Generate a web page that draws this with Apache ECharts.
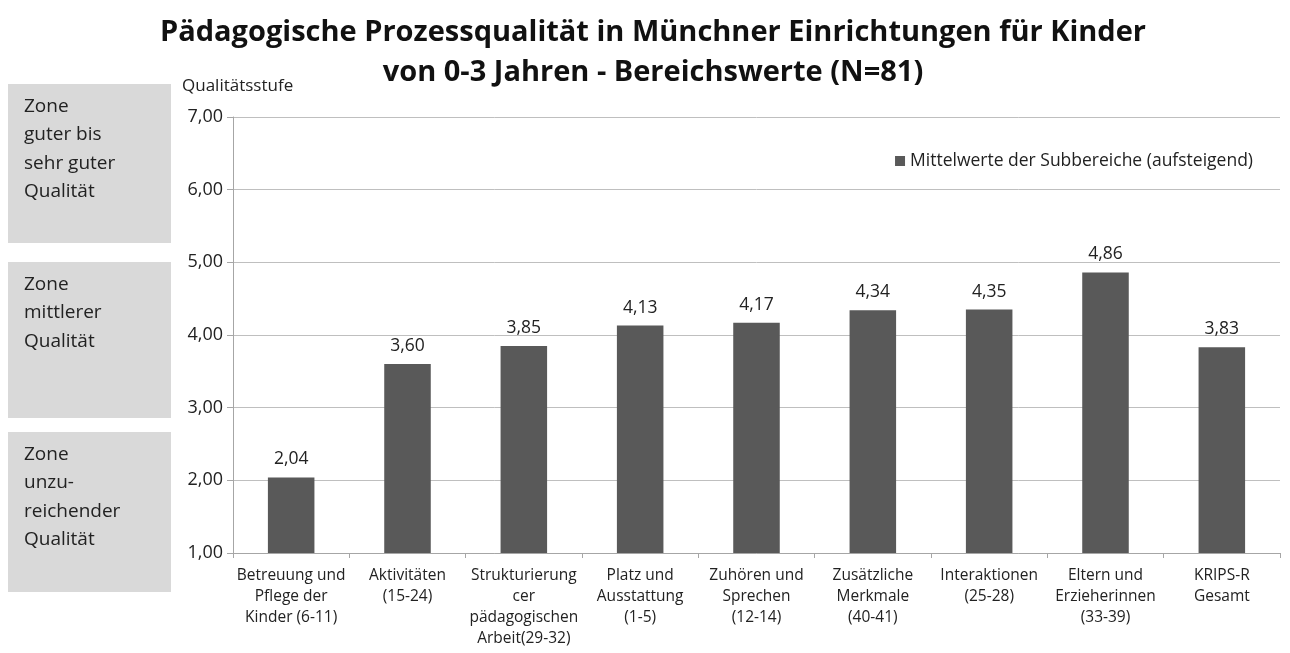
<!DOCTYPE html>
<html>
<head>
<meta charset="utf-8">
<script src="https://cdn.jsdelivr.net/npm/echarts@6/dist/echarts.min.js"></script>
<style>
html, body { margin: 0; padding: 0; background: #fff; }
#chart { width: 1290px; height: 653px; }
</style>
</head>
<body>
<div id="chart"></div>
<script>
var myChart = echarts.init(document.getElementById('chart'));

var categories = ['Betreuung und\nPflege der\nKinder (6-11)', 'Aktivitäten\n(15-24)', 'Strukturierung\ncer\npädagogischen\nArbeit(29-32)', 'Platz und\nAusstattung\n(1-5)', 'Zuhören und\nSprechen\n(12-14)', 'Zusätzliche\nMerkmale\n(40-41)', 'Interaktionen\n(25-28)', 'Eltern und\nErzieherinnen\n(33-39)', 'KRIPS-R\nGesamt'];
var values = [2.04, 3.60, 3.85, 4.13, 4.17, 4.34, 4.35, 4.86, 3.83];
var zoneTexts = ['Zone\nguter bis\nsehr guter\nQualität', 'Zone\nmittlerer\nQualität', 'Zone\nunzu-\nreichender\nQualität'];

var font = '"Open Sans", "Noto Sans", sans-serif';
var fmt = function (v) { return Number(v).toFixed(2).replace('.', ','); };

// grey zone boxes on the left
var zoneBoxes = [[8, 84, 163, 159], [8, 262, 163, 156], [8, 432, 163, 160]];
var graphics = [];
zoneBoxes.forEach(function (b, i) {
    graphics.push({
        type: 'rect', left: b[0], top: b[1],
        shape: {width: b[2], height: b[3]},
        style: {fill: '#d9d9d9'}
    });
    graphics.push({
        type: 'text', left: b[0] + 16, top: b[1] + 8,
        style: {text: zoneTexts[i], fill: '#222', font: '19px ' + font, lineHeight: 28.5}
    });
});

option = {
    backgroundColor: '#fff',
    title: {
        text: 'Pädagogische Prozessqualität in Münchner Einrichtungen für Kinder\nvon 0-3 Jahren - Bereichswerte (N=81)',
        left: 648, textAlign: 'center',
        top: 8,
        textStyle: {fontFamily: font, fontSize: 29, fontWeight: 'bold', color: '#111', lineHeight: 40}
    },
    legend: {
        right: 32, top: 147,
        itemWidth: 10, itemHeight: 10, itemGap: 5,
        icon: 'rect',
        textStyle: {fontFamily: font, fontSize: 17.5, color: '#222'},
        data: ['Mittelwerte der Subbereiche (aufsteigend)']
    },
    graphic: graphics,
    grid: {left: 233, right: 10, top: 117, bottom: 100},
    xAxis: {
        type: 'category',
        data: categories,
        axisLine: {lineStyle: {color: '#a6a6a6'}},
        axisTick: {show: true, length: 5, lineStyle: {color: '#a6a6a6'}},
        axisLabel: {interval: 0, fontFamily: font, fontSize: 15.5, color: '#222', lineHeight: 21, margin: 12}
    },
    yAxis: {
        type: 'value',
        min: 1, max: 7, interval: 1,
        name: 'Qualitätsstufe',
        nameLocation: 'end',
        nameGap: 22,
        nameTextStyle: {fontFamily: font, fontSize: 17, color: '#222', align: 'left', padding: [0, 0, 0, -51]},
        axisLine: {show: true, lineStyle: {color: '#a6a6a6'}},
        axisTick: {show: true, length: 6, lineStyle: {color: '#a6a6a6'}},
        axisLabel: {formatter: fmt, fontFamily: font, fontSize: 18, color: '#222', margin: 10},
        splitLine: {lineStyle: {color: '#bfbfbf'}}
    },
    series: [
        {
            name: 'Mittelwerte der Subbereiche (aufsteigend)',
            type: 'bar',
            data: values,
            barWidth: '40%',
            itemStyle: {color: '#595959'},
            label: {
                show: true, position: 'top', distance: 9,
                formatter: function (p) { return fmt(p.value); },
                fontFamily: font, fontSize: 17.5, color: '#222'
            }
        }
    ]
};
myChart.setOption(option);
</script>
</body>
</html>
